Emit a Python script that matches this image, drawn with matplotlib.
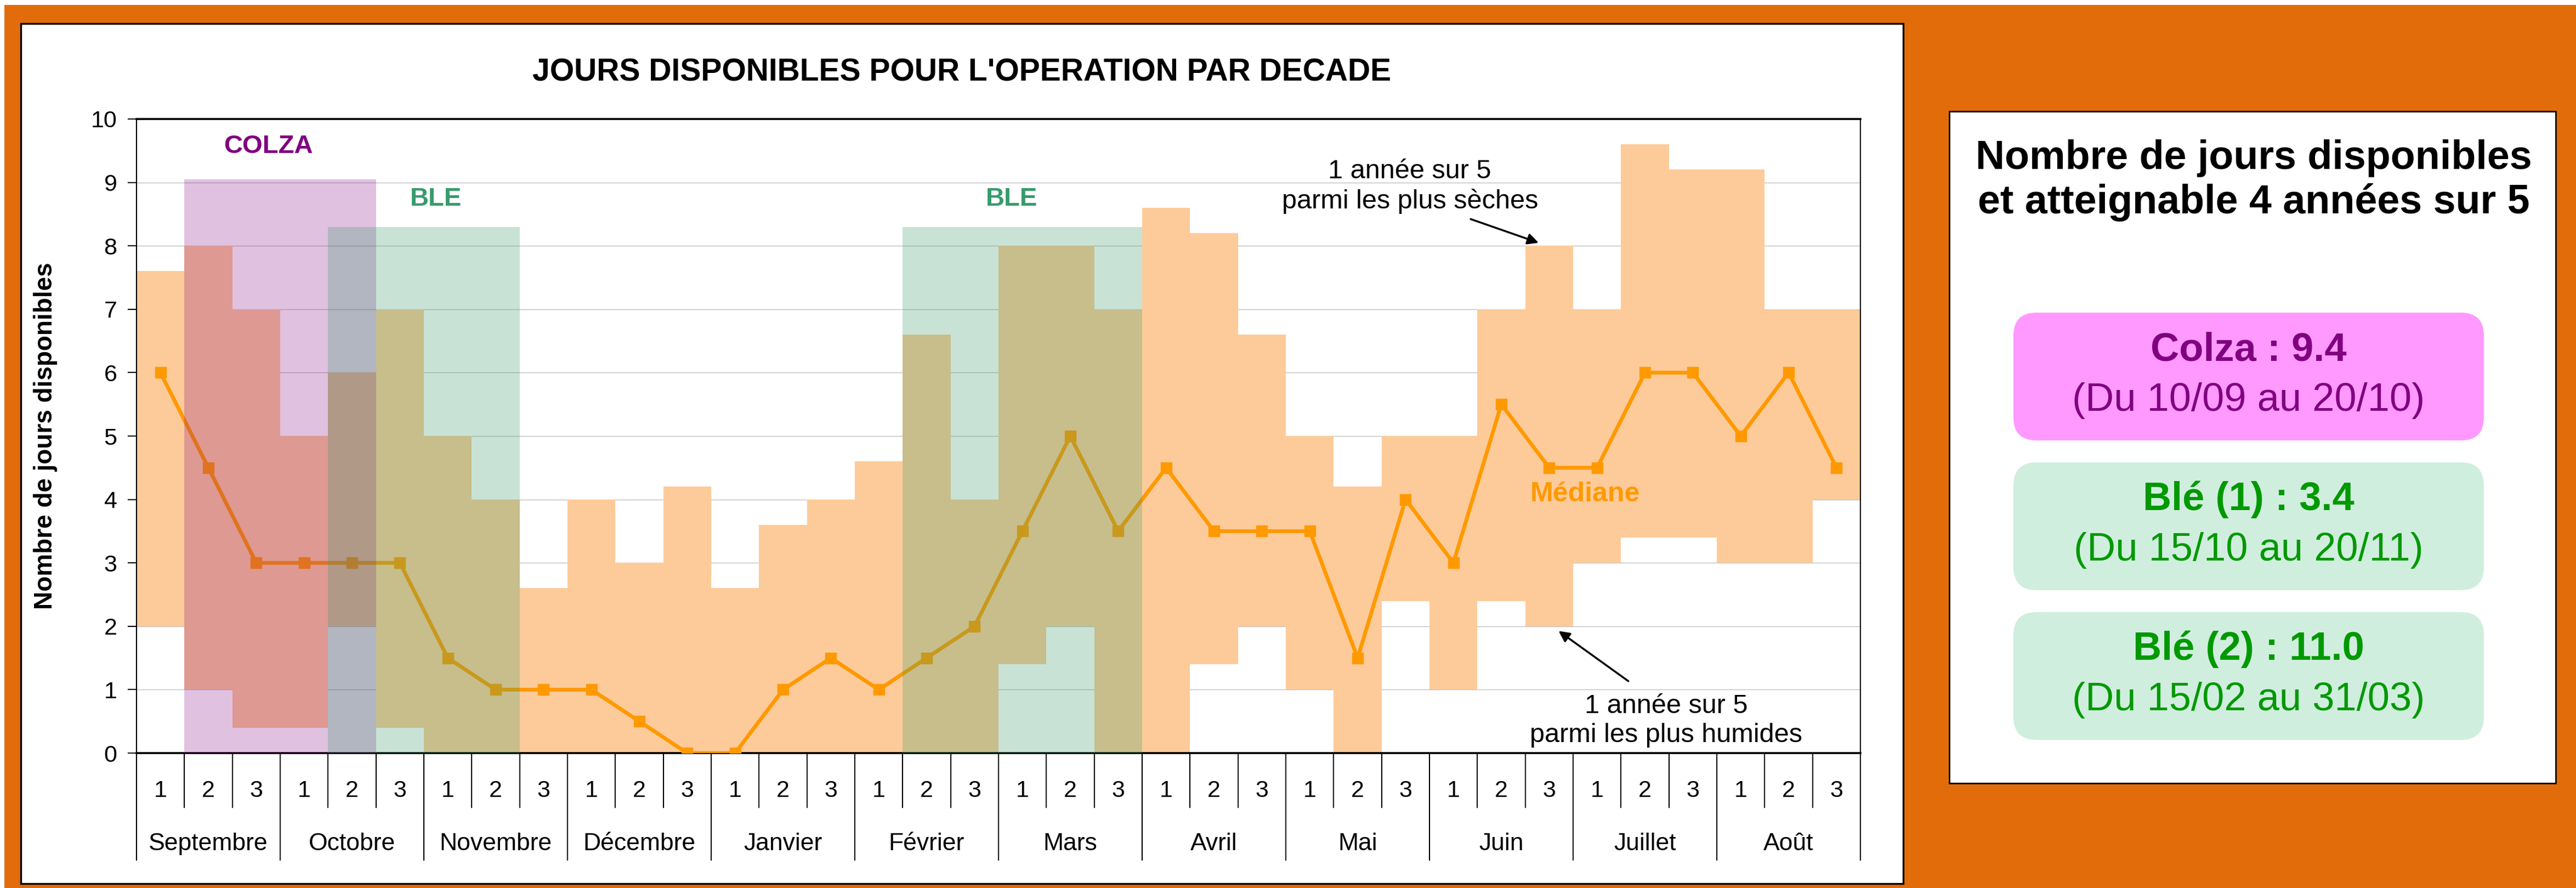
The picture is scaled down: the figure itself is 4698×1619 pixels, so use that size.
import numpy as np
import matplotlib
matplotlib.use("Agg")
import matplotlib.pyplot as plt
from matplotlib.patches import Rectangle, FancyBboxPatch
import matplotlib.transforms as mtransforms

plt.rcParams['font.family'] = ['Liberation Sans', 'DejaVu Sans']

# === DATA ===
months = ["Septembre", "Octobre", "Novembre", "Décembre", "Janvier", "Février",
          "Mars", "Avril", "Mai", "Juin", "Juillet", "Août"]
decades = ["1", "2", "3"]

# 1 annee sur 5 parmi les plus humides (bas) / plus seches (haut)
humides = [2.0, 1.0, 0.4, 0.4, 2.0, 0.4, 0.0, 0.0, 0.0, 0.0, 0.0, 0.0,
           0.0, 0.0, 0.0, 0.0, 0.0, 0.0, 1.4, 2.0, 0.0, 0.0, 1.4, 2.0,
           1.0, 0.0, 2.4, 1.0, 2.4, 2.0, 3.0, 3.4, 3.4, 3.0, 3.0, 4.0]
seches = [7.6, 8.0, 7.0, 5.0, 6.0, 7.0, 5.0, 4.0, 2.6, 4.0, 3.0, 4.2,
          2.6, 3.6, 4.0, 4.6, 6.6, 4.0, 8.0, 8.0, 7.0, 8.6, 8.2, 6.6,
          5.0, 4.2, 5.0, 5.0, 7.0, 8.0, 7.0, 9.6, 9.2, 9.2, 7.0, 7.0]
mediane = [6.0, 4.5, 3.0, 3.0, 3.0, 3.0, 1.5, 1.0, 1.0, 1.0, 0.5, 0.0,
           0.0, 1.0, 1.5, 1.0, 1.5, 2.0, 3.5, 5.0, 3.5, 4.5, 3.5, 3.5,
           3.5, 1.5, 4.0, 3.0, 5.5, 4.5, 4.5, 6.0, 6.0, 5.0, 6.0, 4.5]

# periodes (premiere et derniere decade, indice 0 = 1ere decade de septembre)
colza_periode = (1, 4)
colza_haut = 9.05
ble_periodes = [(4, 7), (16, 20)]
ble_haut = 8.3

encadres = [("Colza : 9.4", "(Du 10/09 au 20/10)"),
            ("Blé (1) : 3.4", "(Du 15/10 au 20/11)"),
            ("Blé (2) : 11.0", "(Du 15/02 au 31/03)")]

# === COLORS ===
ORANGE_BG = "#E36C0A"
BANDE = "#FDCB99"
MED = "#FF9900"
VIOLET = "#800080"
VERT_BLE = "#379B6B"
VERT = "#009900"

W, H = 4698, 1619
fig = plt.figure(figsize=(W / 100, H / 100), dpi=100)
fig.patch.set_facecolor("white")

# === BACKGROUND (pixel coords) ===
bg = fig.add_axes([0, 0, 1, 1])
bg.set_xlim(0, W)
bg.set_ylim(H, 0)
bg.axis("off")
bg.add_patch(Rectangle((8, 9), W - 8, H - 9, color=ORANGE_BG, lw=0))
bg.add_patch(Rectangle((38, 43), 3433, 1568, facecolor="white", edgecolor="black", lw=2.4))
bg.add_patch(Rectangle((3555, 203), 1106, 1225, facecolor="white", edgecolor="black", lw=2.0))

bg.text(4110, 329, "Nombre de jours disponibles\net atteignable 4 années sur 5",
        ha="center", va="center", fontsize=53, fontweight="bold", linespacing=1.2)

box_cols = [("#FF99FF", VIOLET), ("#D0EEDE", VERT), ("#D0EEDE", VERT)]
box_tops = [570, 843, 1116]
for (l1, l2), (fc, tc), top in zip(encadres, box_cols, box_tops):
    bg.add_patch(FancyBboxPatch((3672, top), 858, 233,
                                boxstyle="round,pad=0,rounding_size=42",
                                facecolor=fc, edgecolor="none"))
    bg.text(4101, top + 68, l1, ha="center", va="center", fontsize=52,
            fontweight="bold", color=tc)
    bg.text(4101, top + 160, l2, ha="center", va="center", fontsize=52, color=tc)

# === CHART ===
ax_l, ax_r, ax_t, ax_b = 249, 3393, 217, 1373
ax = fig.add_axes([ax_l / W, 1 - ax_b / H, (ax_r - ax_l) / W, (ax_b - ax_t) / H])
ax.set_facecolor("white")

x = np.arange(len(mediane))
low = np.array(humides)
high = np.array(seches)

ax.bar(x, high - low, bottom=low, width=1.0, color=BANDE, lw=0, zorder=2)
ax.plot(x, mediane, color=MED, lw=5, marker="s", ms=15, zorder=3)

a, b = colza_periode
ax.bar(a - 0.5, colza_haut, width=b - a + 1, align="edge", color=VIOLET,
       alpha=0.245, lw=0, zorder=4)
for a, b in ble_periodes:
    ax.bar(a - 0.5, ble_haut, width=b - a + 1, align="edge", color=VERT_BLE,
           alpha=0.27, lw=0, zorder=5)

ax.set_xlim(-0.5, len(x) - 0.5)
ax.set_ylim(0, 10)
ax.set_yticks(range(0, 11))
ax.set_xticks([])
ax.tick_params(axis="y", labelsize=31, length=11.5, width=1.5, pad=14, direction="out")
ax.yaxis.grid(True, color="#C0C0C0", lw=1.0)
ax.set_axisbelow(True)
for s in ["left", "right"]:
    ax.spines[s].set_linewidth(1.5)
for s in ["top", "bottom"]:
    ax.spines[s].set_linewidth(2.6)

# texts inside chart
ax.text(2.25, 9.57, "COLZA", color=VIOLET, fontsize=34, fontweight="bold",
        ha="center", va="center", zorder=6)
ax.text(5.75, 8.74, "BLE", color=VERT_BLE, fontsize=34, fontweight="bold",
        ha="center", va="center", zorder=6)
ax.text(17.78, 8.74, "BLE", color=VERT_BLE, fontsize=34, fontweight="bold",
        ha="center", va="center", zorder=6)
ax.text(29.75, 4.08, "Médiane", color=MED, fontsize=36, fontweight="bold",
        ha="center", va="center", zorder=6)
ax.text(26.09, 8.94, "1 année sur 5\nparmi les plus sèches", fontsize=35,
        ha="center", va="center", linespacing=1.25, zorder=6)
ax.text(31.44, 0.51, "1 année sur 5\nparmi les plus humides", fontsize=35,
        ha="center", va="center", linespacing=1.25, zorder=6)
ax.annotate("", xy=(28.81, 8.04), xytext=(27.33, 8.43),
            arrowprops=dict(arrowstyle="-|>", color="black", lw=2.5, mutation_scale=30), zorder=6)
ax.annotate("", xy=(29.17, 1.94), xytext=(30.68, 1.12),
            arrowprops=dict(arrowstyle="-|>", color="black", lw=2.5, mutation_scale=30), zorder=6)

# === CATEGORY AXIS (decades + months) ===
trans = mtransforms.blended_transform_factory(ax.transData, ax.transAxes)
ax_h = ax_b - ax_t
y_dec = -69 / ax_h
y_mon = -165 / ax_h
y_dec_line = -99 / ax_h
y_mon_line = -195 / ax_h

for i in range(len(x)):
    ax.text(x[i], y_dec, decades[i % 3], transform=trans, ha="center", va="center",
            fontsize=31)
for k in range(len(x) + 1):
    bottom = y_mon_line if k % 3 == 0 else y_dec_line
    ax.plot([k - 0.5, k - 0.5], [0, bottom], transform=trans, color="black",
            lw=1.5, clip_on=False)
for m, name in enumerate(months):
    ax.text(3 * m + 1, y_mon, name, transform=trans, ha="center", va="center",
            fontsize=32)

# === TITLES ===
fig.text(1754 / W, 1 - 132 / H, "JOURS DISPONIBLES POUR L'OPERATION PAR DECADE",
         ha="center", va="center", fontsize=41, fontweight="bold")
fig.text(83 / W, 1 - 795 / H, "Nombre de jours disponibles", rotation=90,
         ha="center", va="center", fontsize=33, fontweight="bold")

fig.savefig("out.png", dpi=100)
